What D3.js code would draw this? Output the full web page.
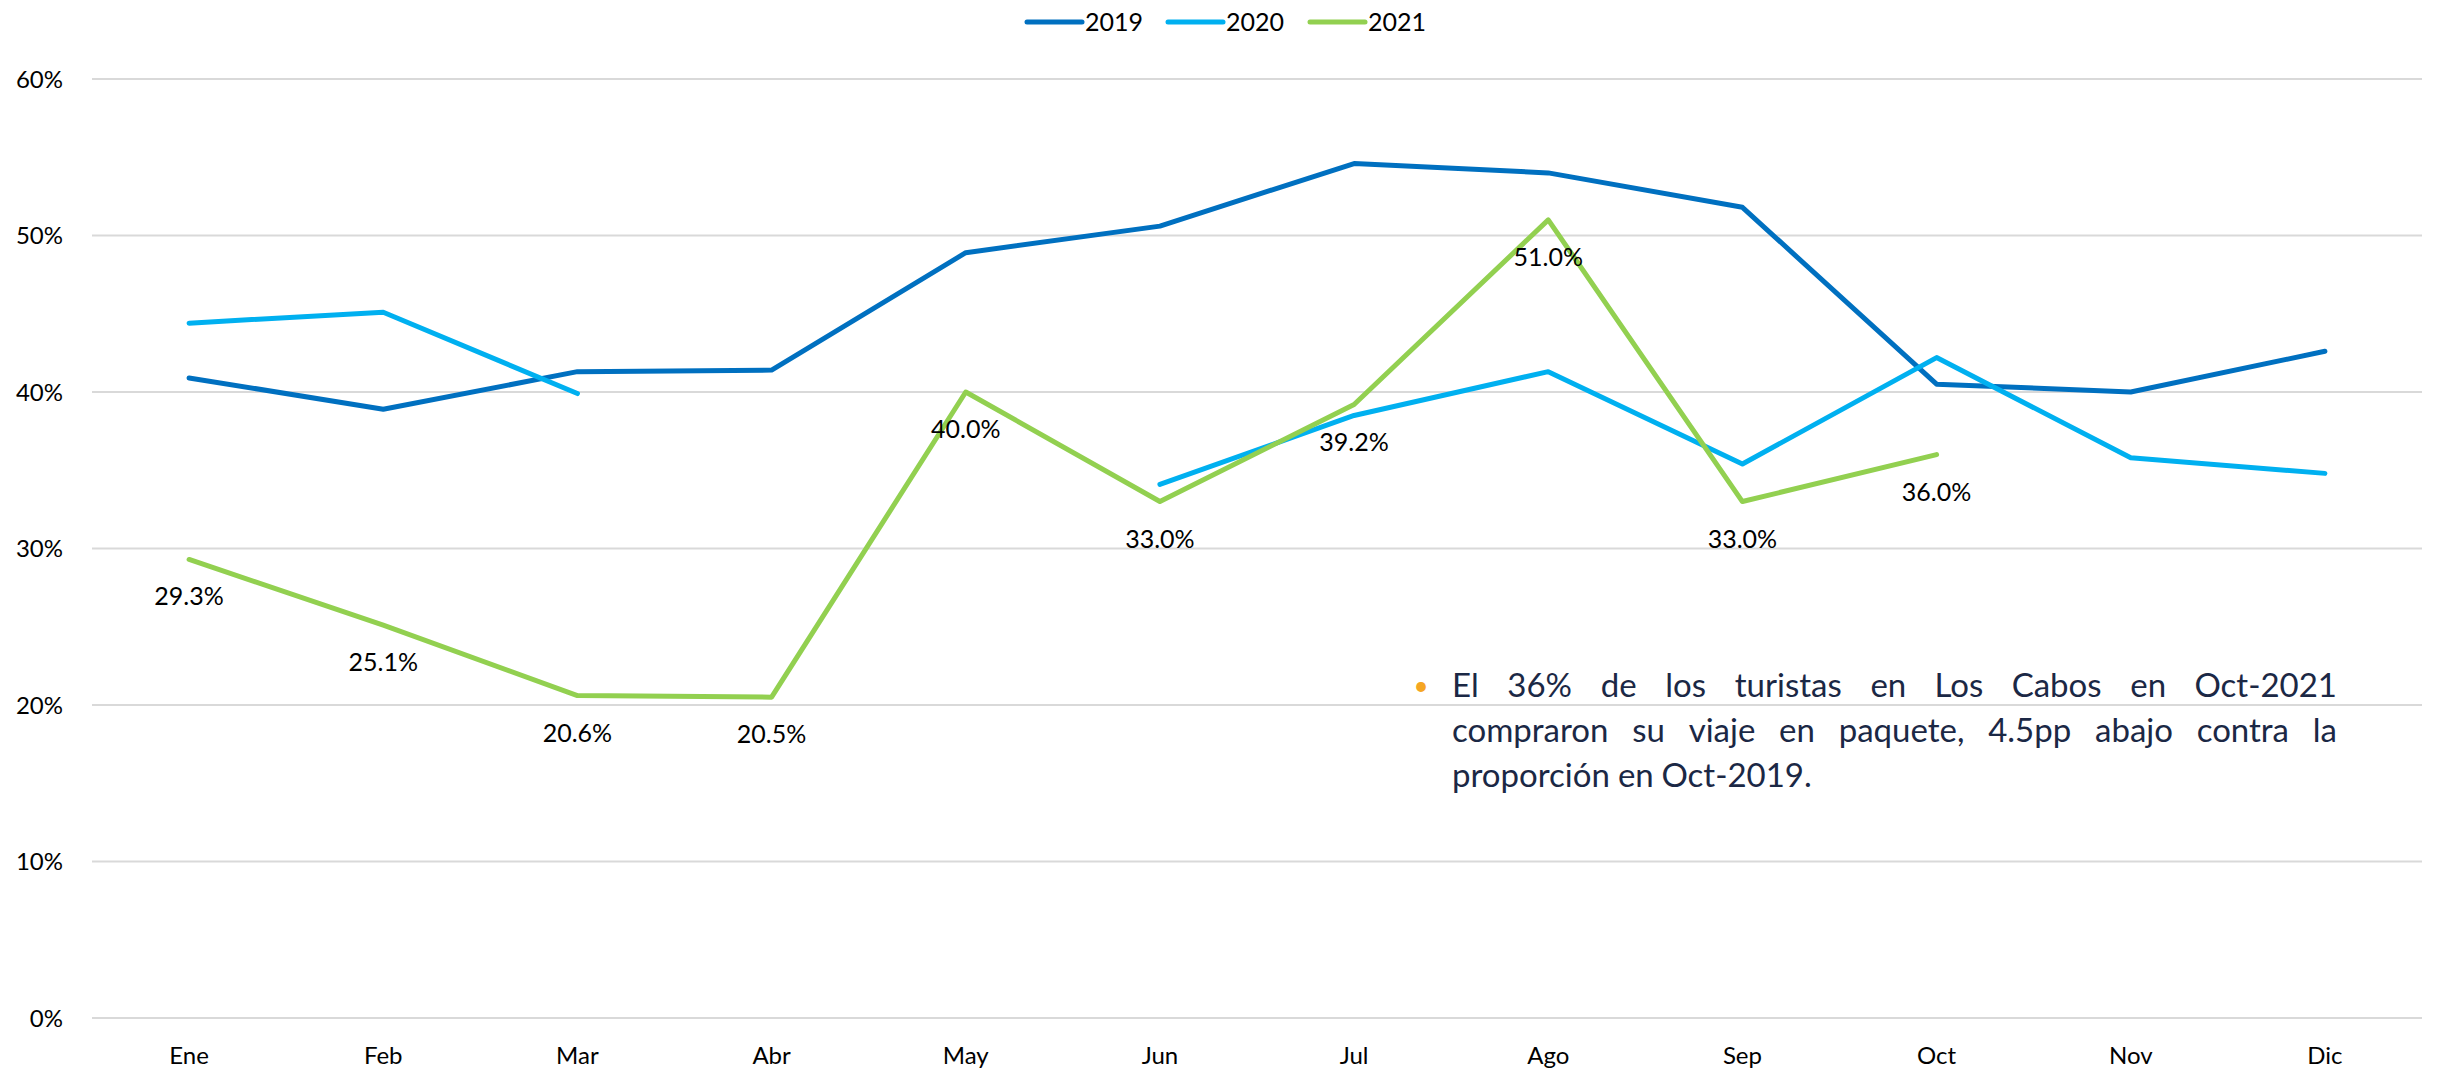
<!DOCTYPE html>
<html>
<head>
<meta charset="utf-8">
<script src="https://cdn.jsdelivr.net/npm/d3@7"></script>
<style>
  body { margin: 0; background: #fff; }
  text { font-family: Lato, "Open Sans", sans-serif; }
</style>
</head>
<body>
<div id="chart"></div>
<script>
const width = 2438, height = 1071;

// months on the x axis
const months = ["Ene", "Feb", "Mar", "Abr", "May", "Jun", "Jul", "Ago", "Sep", "Oct", "Nov", "Dic"];

// share of tourists who bought a package (%)
const v2019 = [40.9, 38.9, 41.3, 41.4, 48.9, 50.6, 54.6, 54.0, 51.8, 40.5, 40.0, 42.6];
const v2020 = [44.4, 45.1, 39.9, null, null, 34.1, 38.5, 41.3, 35.4, 42.2, 35.8, 34.8];
const v2021 = [29.3, 25.1, 20.6, 20.5, 40.0, 33.0, 39.2, 51.0, 33.0, 36.0, null, null];

const yTicks = [0, 10, 20, 30, 40, 50, 60];

const seriesNames = ["2019", "2020", "2021"];
const seriesColors = ["#0070C0", "#00B0F0", "#92D050"];

const noteLines = [
    "El 36% de los turistas en Los Cabos en Oct-2021",
    "compraron su viaje en paquete, 4.5pp abajo contra la",
    "proporción en Oct-2019."
];

let svg = d3.select('#chart')
    .append('svg')
      .attr('width', width)
      .attr('height', height);

const x = d3.scaleBand().domain(months).range([92, 2422]);
const y = d3.scaleLinear().domain([0, 60]).range([1018, 79]);
const cx = m => x(m) + x.bandwidth() / 2;

// gridlines
svg.append('g')
    .selectAll('line')
    .data(yTicks)
    .enter()
    .append('line')
      .attr('x1', 92).attr('x2', 2422)
      .attr('y1', d => y(d)).attr('y2', d => y(d))
      .attr('stroke', '#D9D9D9')
      .attr('stroke-width', 2);

// y axis labels
svg.append('g')
    .selectAll('text')
    .data(yTicks)
    .enter()
    .append('text')
      .attr('x', 63)
      .attr('y', d => y(d))
      .attr('dy', '0.36em')
      .attr('text-anchor', 'end')
      .attr('font-size', 24)
      .attr('fill', '#000')
      .text(d => d + '%');

// x axis labels
svg.append('g')
    .selectAll('text')
    .data(months)
    .enter()
    .append('text')
      .attr('x', d => cx(d))
      .attr('y', 1064)
      .attr('text-anchor', 'middle')
      .attr('font-size', 24)
      .attr('fill', '#000')
      .text(d => d);

// lines
const series = [v2019, v2020, v2021];
const line = d3.line()
    .defined(d => d.v !== null)
    .x(d => cx(d.m))
    .y(d => y(d.v));

series.forEach((vals, i) => {
    const pts = vals.map((v, j) => ({ m: months[j], v: v }));
    svg.append('path')
        .datum(pts)
        .attr('d', line)
        .attr('fill', 'none')
        .attr('stroke', seriesColors[i])
        .attr('stroke-width', 5)
        .attr('stroke-linejoin', 'round')
        .attr('stroke-linecap', 'round');
});

// data labels for 2021
svg.append('g')
    .selectAll('text')
    .data(v2021.map((v, j) => ({ m: months[j], v: v })).filter(d => d.v !== null))
    .enter()
    .append('text')
      .attr('x', d => cx(d.m))
      .attr('y', d => y(d.v) + 46)
      .attr('text-anchor', 'middle')
      .attr('font-size', 25)
      .attr('fill', '#000')
      .text(d => d.v.toFixed(1) + '%');

// legend
const legendX = [1027, 1168, 1310];
const legend = svg.append('g');
seriesNames.forEach((name, i) => {
    legend.append('line')
        .attr('x1', legendX[i]).attr('x2', legendX[i] + 55)
        .attr('y1', 22).attr('y2', 22)
        .attr('stroke', seriesColors[i])
        .attr('stroke-width', 5)
        .attr('stroke-linecap', 'round');
    legend.append('text')
        .attr('x', legendX[i] + 58)
        .attr('y', 22)
        .attr('dy', '0.36em')
        .attr('font-size', 25)
        .attr('fill', '#000')
        .text(name);
});

// annotation, justified
const noteLeft = 1452, noteRight = 2337, noteTop = 697, noteStep = 45;
svg.append('text')
    .attr('x', 1421)
    .attr('y', noteTop - 2)
    .attr('text-anchor', 'middle')
    .attr('font-size', 26)
    .attr('fill', '#F5A623')
    .text('•');

noteLines.forEach((txt, li) => {
    const words = txt.split(' ');
    const t = svg.append('text')
        .attr('y', noteTop + li * noteStep)
        .attr('font-size', 33)
        .attr('fill', '#1B2845');
    const spans = words.map(w => t.append('tspan').text(w));
    const widths = spans.map(s => s.node().getComputedTextLength());
    const total = d3.sum(widths);
    const last = li === noteLines.length - 1;
    const gap = last ? 8 : (noteRight - noteLeft - total) / (words.length - 1);
    let pos = noteLeft;
    spans.forEach((s, k) => {
        s.attr('x', pos);
        pos += widths[k] + gap;
    });
});
</script>
</body>
</html>
